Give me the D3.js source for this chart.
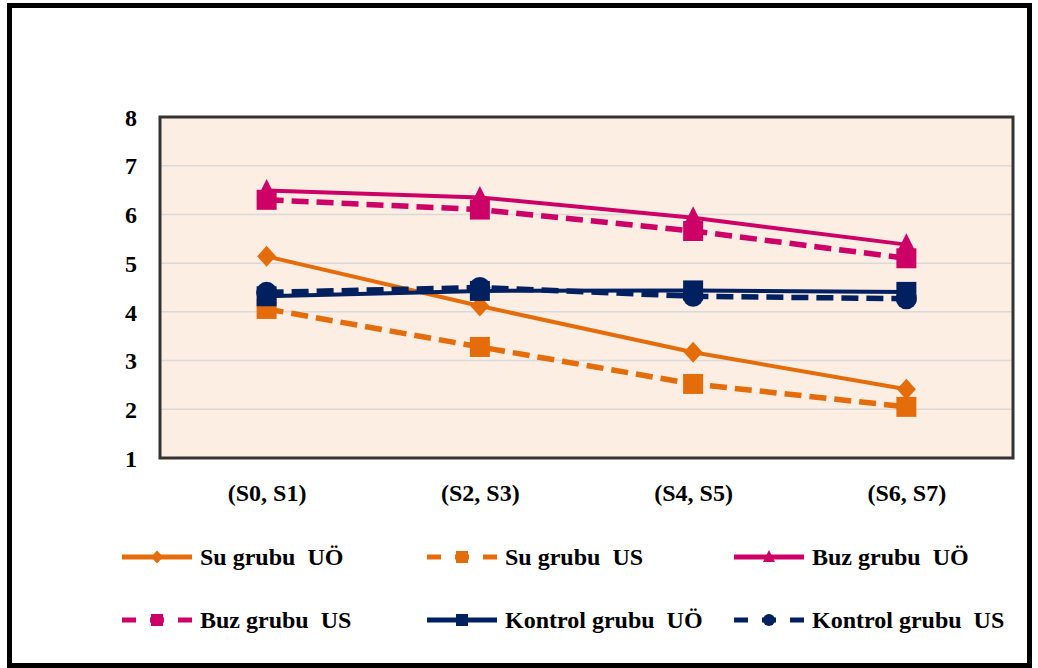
<!DOCTYPE html>
<html>
<head>
<meta charset="utf-8">
<script src="https://cdn.jsdelivr.net/npm/d3@7"></script>
<style>
  html, body { margin: 0; padding: 0; background: #fff; }
  svg { display: block; }
  text { font-family: "Liberation Serif", "Times New Roman", serif; font-weight: bold; fill: #000; white-space: pre; }
</style>
</head>
<body>
<svg id="chart" width="1038" height="668"></svg>
<script>
// Measurement periods on the x axis
const categories = ["(S0, S1)", "(S2, S3)", "(S4, S5)", "(S6, S7)"];
const yTicks = [1, 2, 3, 4, 5, 6, 7, 8];

// Mean scores per group
const suUO      = [5.14, 4.12, 3.17, 2.41];
const suUS      = [4.06, 3.28, 2.52, 2.05];
const buzUO     = [6.49, 6.35, 5.93, 5.38];
const buzUS     = [6.30, 6.10, 5.66, 5.10];
const kontrolUO = [4.32, 4.43, 4.44, 4.41];
const kontrolUS = [4.40, 4.50, 4.32, 4.27];

const seriesNames = ["Su grubu  UÖ", "Su grubu  US", "Buz grubu  UÖ",
                     "Buz grubu  US", "Kontrol grubu  UÖ", "Kontrol grubu  US"];

const ORANGE = "#E46C0A", MAGENTA = "#CC0066", NAVY = "#002060";

const series = [
  { name: seriesNames[0], values: suUO,      color: ORANGE,  dashed: false, marker: "diamond" },
  { name: seriesNames[1], values: suUS,      color: ORANGE,  dashed: true,  marker: "square" },
  { name: seriesNames[2], values: buzUO,     color: MAGENTA, dashed: false, marker: "triangle" },
  { name: seriesNames[3], values: buzUS,     color: MAGENTA, dashed: true,  marker: "square" },
  { name: seriesNames[4], values: kontrolUO, color: NAVY,    dashed: false, marker: "square" },
  { name: seriesNames[5], values: kontrolUS, color: NAVY,    dashed: true,  marker: "circle" }
];

const svg = d3.select("#chart");
const plot = { left: 160, right: 1013, top: 117, bottom: 458 };
const FONT = 24;

// Outer frame
svg.append("rect")
  .attr("x", 9.5).attr("y", 5.5)
  .attr("width", 1020).attr("height", 660)
  .attr("fill", "#fff").attr("stroke", "#000").attr("stroke-width", 5);

const x = d3.scalePoint().domain(categories).range([plot.left, plot.right]).padding(0.5);
const y = d3.scaleLinear().domain([1, 8]).range([plot.bottom, plot.top]);

// Plot background
svg.append("rect")
  .attr("x", plot.left).attr("y", plot.top)
  .attr("width", plot.right - plot.left).attr("height", plot.bottom - plot.top)
  .attr("fill", "#FDEEE3");

// Horizontal gridlines
svg.append("g")
  .selectAll("line")
  .data(yTicks.filter(t => t > 1 && t < 8))
  .join("line")
  .attr("x1", plot.left).attr("x2", plot.right)
  .attr("y1", d => y(d)).attr("y2", d => y(d))
  .attr("stroke", "#D9D9D9").attr("stroke-width", 1.5);

// Plot border
svg.append("rect")
  .attr("x", plot.left).attr("y", plot.top)
  .attr("width", plot.right - plot.left).attr("height", plot.bottom - plot.top)
  .attr("fill", "none").attr("stroke", "#333").attr("stroke-width", 3);

// Y axis labels
const yAxis = d3.axisLeft(y).tickValues(yTicks).tickSize(0).tickPadding(23).tickFormat(d3.format("d"));
const yg = svg.append("g").attr("transform", `translate(${plot.left},0)`).call(yAxis);
yg.select(".domain").remove();
yg.selectAll(".tick text").style("font-size", FONT + "px").attr("dy", "0.34em");

// X axis labels
const xAxis = d3.axisBottom(x).tickSize(0).tickPadding(26);
const xg = svg.append("g").attr("transform", `translate(0,${plot.bottom})`).call(xAxis);
xg.select(".domain").remove();
xg.selectAll(".tick text").style("font-size", FONT + "px");

// Marker shapes
function markerPath(type, s) {
  const h = s / 2;
  switch (type) {
    case "square":   return `M${-h},${-h}H${h}V${h}H${-h}Z`;
    case "diamond":  return `M0,${-h * 1.1}L${h},0L0,${h * 1.1}L${-h},0Z`;
    case "triangle": return `M0,${-h * 1.15}L${h},${h * 0.85}L${-h},${h * 0.85}Z`;
    case "circle":   return d3.symbol(d3.symbolCircle, Math.PI * h * h)();
  }
}
const markerSize = { square: 20, diamond: 19, triangle: 20, circle: 21 };

const line = d3.line()
  .x((d, i) => x(categories[i]))
  .y(d => y(d));

const lines = svg.append("g");
series.forEach(s => {
  const g = lines.append("g");
  g.append("path")
    .datum(s.values)
    .attr("d", line)
    .attr("fill", "none")
    .attr("stroke", s.color)
    .attr("stroke-width", s.dashed ? 5.5 : 4)
    .attr("stroke-dasharray", s.dashed ? "17,8" : null);
  g.selectAll("path.mk")
    .data(s.values)
    .join("path")
    .attr("class", "mk")
    .attr("transform", (d, i) => `translate(${x(categories[i])},${y(d)})`)
    .attr("d", markerPath(s.marker, markerSize[s.marker]))
    .attr("fill", s.color);
});

// Legend
const legendCols = [122, 427, 734];
const legendRows = [557, 620];
const legend = svg.append("g");
series.forEach((s, i) => {
  const lx = legendCols[i % 3], ly = legendRows[Math.floor(i / 3)];
  const g = legend.append("g").attr("transform", `translate(${lx},${ly})`);
  g.append("line")
    .attr("x1", 0).attr("x2", 70).attr("y1", 0).attr("y2", 0)
    .attr("stroke", s.color)
    .attr("stroke-width", 5)
    .attr("stroke-dasharray", s.dashed ? "14,14" : null);
  g.append("path")
    .attr("transform", "translate(35,0)")
    .attr("d", markerPath(s.marker, 12))
    .attr("fill", s.color);
  g.append("text")
    .attr("x", 78).attr("y", 8)
    .style("font-size", FONT + "px")
    .text(s.name);
});
</script>
</body>
</html>
